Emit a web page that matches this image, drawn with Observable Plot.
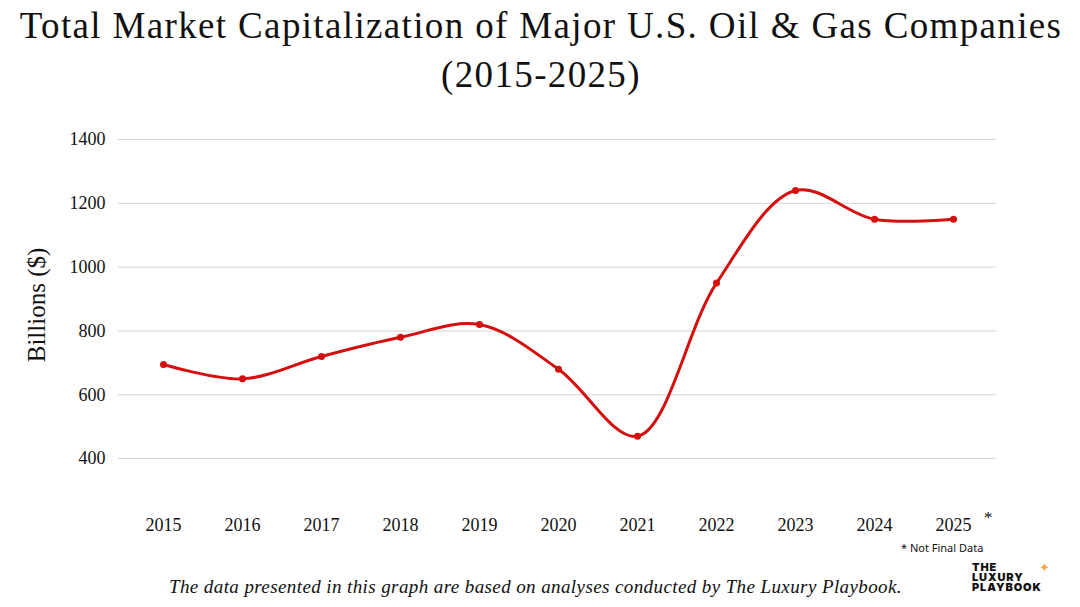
<!DOCTYPE html>
<html>
<head>
<meta charset="utf-8">
<script src="https://cdn.jsdelivr.net/npm/d3@7"></script>
<script src="https://cdn.jsdelivr.net/npm/@observablehq/plot@0.6"></script>
<style>
  html, body { margin: 0; padding: 0; background: #fff; }
  #page { position: relative; width: 1080px; height: 607px; overflow: hidden; background: #fff; }
  #title { position: absolute; left: 0; top: 1px; width: 1082px; text-align: center;
    font-family: "Liberation Serif", serif; font-size: 37px; line-height: 49px; color: #111; letter-spacing: 1.35px; }
  #chart { position: absolute; left: 0; top: 110px; }
  #ylabel { position: absolute; left: 37px; top: 305px; transform: translate(-50%, -50%) rotate(-90deg);
    font-family: "Liberation Serif", serif; font-size: 25px; color: #111; white-space: nowrap; }
  #star { position: absolute; left: 984px; top: 508px; font-family: "Liberation Serif", serif; font-size: 17px; color: #111; }
  #note { position: absolute; left: 901px; top: 540px; font-family: "Noto Sans", sans-serif; font-size: 11px; color: #111; white-space: nowrap; }
  #caption { position: absolute; left: 0; width: 1071px; top: 577px; text-align: center;
    font-family: "Liberation Serif", serif; font-style: italic; font-size: 19px; line-height: 20px; color: #111; letter-spacing: 0.4px; }
  .logo { position: absolute; left: 972px; font-family: Inter, "Noto Sans", sans-serif; font-weight: 900;
    font-size: 11px; line-height: 10px; color: #111; letter-spacing: 0.9px; white-space: nowrap; }
  #spark { position: absolute; left: 1039px; top: 560px; color: #F9A94B; font-size: 13px; font-family: "DejaVu Sans", sans-serif; }
</style>
</head>
<body>
<div id="page">
  <div id="title">Total Market Capitalization of Major U.S. Oil &amp; Gas Companies<br>(2015-2025)</div>
  <div id="chart"></div>
  <div id="ylabel">Billions ($)</div>
  <div id="star">*</div>
  <div id="note">* Not Final Data</div>
  <div id="caption">The data presented in this graph are based on analyses conducted by The Luxury Playbook.</div>
  <div class="logo" style="top:562px">THE</div>
  <div class="logo" style="top:572px">LUXURY</div>
  <div class="logo" style="top:582px">PLAYBOOK</div>
  <div id="spark">✦</div>
</div>
<script>
const years = ["2015","2016","2017","2018","2019","2020","2021","2022","2023","2024","2025"];
const values = [695, 650, 720, 780, 820, 680, 470, 950, 1240, 1150, 1150];
const yTicks = [400, 600, 800, 1000, 1200, 1400];

const data = years.map((y, i) => ({year: y, value: values[i]}));

const chart = Plot.plot({
  width: 1080,
  height: 430,
  marginLeft: 118,
  marginRight: 84,
  marginTop: 29,
  marginBottom: 50,
  style: {fontFamily: "Liberation Serif, serif", fontSize: "18px", color: "#111", background: "transparent"},
  x: {type: "point", domain: years, range: [159, 956], padding: 0, label: null},
  y: {domain: [300, 1400], label: null},
  marks: [
    Plot.gridY(yTicks, {stroke: "#d4d4d4", strokeOpacity: 1, strokeWidth: 1}),
    Plot.axisX({tickSize: 0, tickPadding: 28, label: null, fontSize: 18}),
    Plot.axisY(yTicks, {tickSize: 0, tickPadding: 13, label: null, fontSize: 18, tickFormat: d => String(d)}),
    Plot.line(data, {x: "year", y: "value", stroke: "#D50F0F", strokeWidth: 3, curve: "catmull-rom"}),
    Plot.dot(data, {x: "year", y: "value", fill: "#D50F0F", r: 3.5})
  ]
});
document.getElementById("chart").appendChild(chart);
</script>
</body>
</html>
